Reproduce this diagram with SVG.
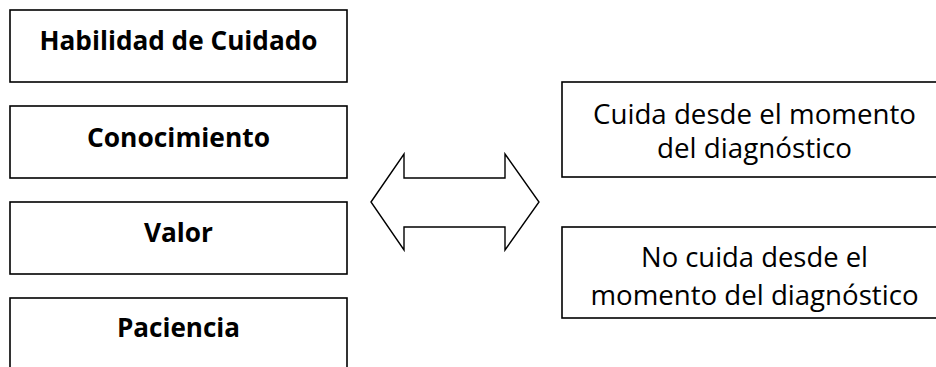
<svg xmlns="http://www.w3.org/2000/svg" width="936" height="367" viewBox="0 0 936 367">
  <style>
    .box { fill: #ffffff; stroke: #000000; stroke-width: 1.6; }
    .arrow { fill: #ffffff; stroke: #000000; stroke-width: 1.4; stroke-linejoin: miter; }
    .lbl { font-family: "Open Sans", "Noto Sans", sans-serif; font-size: 27px; fill: #000000; text-anchor: middle; }
    .bold { font-weight: bold; }
  </style>
  <rect width="936" height="367" fill="#ffffff"/>

  <!-- left column: caregiver attributes -->
  <g id="habilidad">
    <rect class="box" x="10" y="10" width="337" height="72"/>
    <text class="lbl bold" x="178.5" y="50" textLength="278" lengthAdjust="spacingAndGlyphs">Habilidad de Cuidado</text>
  </g>
  <g id="conocimiento">
    <rect class="box" x="10" y="106" width="337" height="72"/>
    <text class="lbl bold" x="178.5" y="146.5" textLength="183" lengthAdjust="spacingAndGlyphs">Conocimiento</text>
  </g>
  <g id="valor">
    <rect class="box" x="10" y="202" width="337" height="72"/>
    <text class="lbl bold" x="178.5" y="242" textLength="69" lengthAdjust="spacingAndGlyphs">Valor</text>
  </g>
  <g id="paciencia">
    <rect class="box" x="10" y="298" width="337" height="80"/>
    <text class="lbl bold" x="178.5" y="337" textLength="123" lengthAdjust="spacingAndGlyphs">Paciencia</text>
  </g>

  <!-- connector: double-headed block arrow -->
  <g id="connectors">
    <polygon class="arrow" points="371,202 404,154 404,178 505,178 505,154 539,202 505,250 505,227 404,227 404,250"/>
  </g>

  <!-- right column: care start -->
  <g id="cuida">
    <rect class="box" x="562" y="82" width="385" height="95"/>
    <text class="lbl" x="754.5" y="123.5" textLength="323" lengthAdjust="spacingAndGlyphs">Cuida desde el momento</text>
    <text class="lbl" x="754.5" y="157.5" textLength="195" lengthAdjust="spacingAndGlyphs">del diagnóstico</text>
  </g>
  <g id="no-cuida">
    <rect class="box" x="562" y="227" width="385" height="91"/>
    <text class="lbl" x="754.5" y="267" textLength="227" lengthAdjust="spacingAndGlyphs">No cuida desde el</text>
    <text class="lbl" x="754.5" y="305" textLength="328" lengthAdjust="spacingAndGlyphs">momento del diagnóstico</text>
  </g>
</svg>
